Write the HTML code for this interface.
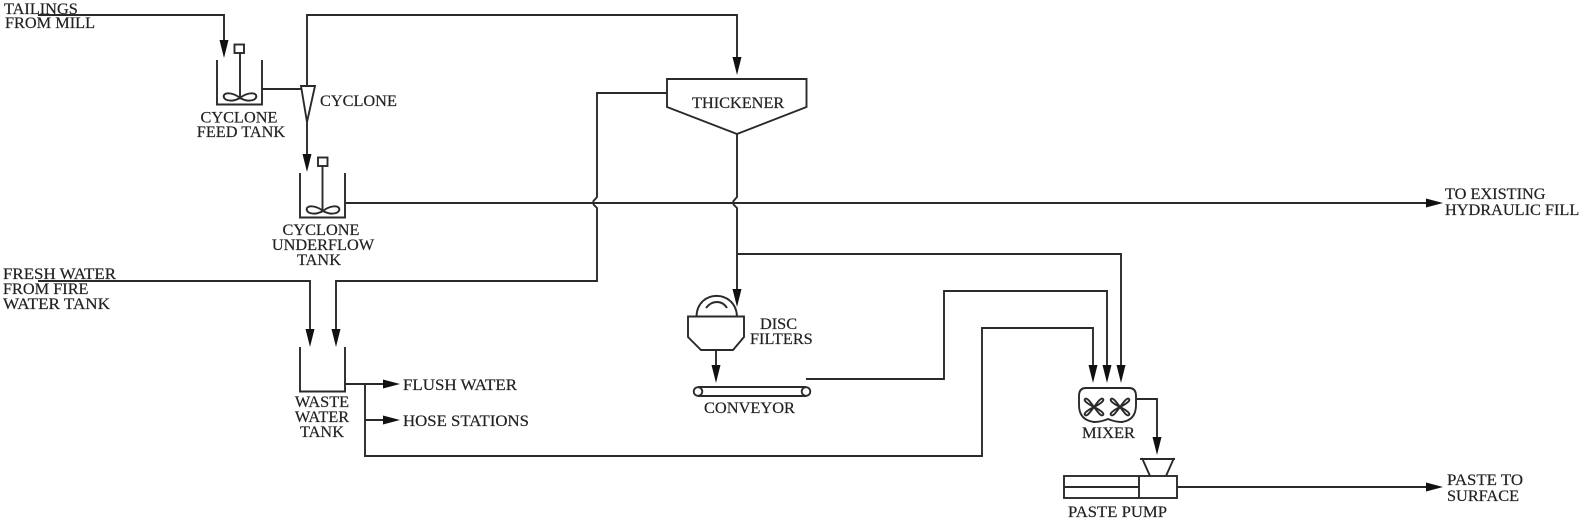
<!DOCTYPE html>
<html><head><meta charset="utf-8"><style>
html,body{margin:0;padding:0;background:#fff;width:1583px;height:520px;overflow:hidden}
svg{display:block}
text{font-family:"Liberation Serif",serif;font-size:16.3px;fill:#222;stroke:#222;stroke-width:.2}
.l{fill:none;stroke:#2a2a2a;stroke-width:1.9}
.a{fill:#111;stroke:none}
.art{filter:blur(.3px)}
</style></head><body>
<svg width="1583" height="520" viewBox="0 0 1583 520" xmlns="http://www.w3.org/2000/svg">
<defs>
<g id="ad"><path class="a" d="M-4.500,-18 L4.500,-18 L0,0 Z"/></g>
<g id="ar"><path class="a" d="M-17,-4.500 L0,0 L-17,4.500 Z"/></g>
<g id="imp"><path class="l" d="M0,0 C-6,-5 -14,-6 -16,-3 C-18,2 -9,5 0,0 C6,-5 14,-6 16,-3 C18,2 9,5 0,0 Z"/></g>
<g id="fan"><path class="l" d="M0,0 C-3,-4 -7,-10 -9,-8 C-11,-6 -4,-2 0,0 C4,-2 11,-6 9,-8 C7,-10 3,-4 0,0 C-3,4 -7,10 -9,8 C-11,6 -4,2 0,0 C4,2 11,6 9,8 C7,10 3,4 0,0 Z"/></g>
</defs>
<g class="art">
<!-- tailings -->
<path class="l" d="M38,15 H224 V45"/><use href="#ad" x="224" y="58"/>
<!-- feed tank -->
<path class="l" d="M217,60 V104.500 H262 V60"/>
<rect class="l" x="234.500" y="44.500" width="9.500" height="8.500"/>
<path class="l" d="M240,53 V98"/><use href="#imp" x="240" y="98"/>
<path class="l" d="M262,89 H301"/>
<!-- cyclone -->
<path class="l" d="M301,86 H315 L307,122 Z"/>
<path class="l" d="M307,86 V15 H737 V62"/><use href="#ad" x="737" y="75"/>
<path class="l" d="M307,122 V160"/><use href="#ad" x="307" y="172"/>
<!-- underflow tank -->
<path class="l" d="M300,173 V217.500 H345 V173"/>
<rect class="l" x="318" y="157.500" width="9.500" height="8.500"/>
<path class="l" d="M322.500,166 V211"/><use href="#imp" x="323" y="211"/>
<path class="l" d="M345,203 H1430"/>
<use href="#ar" x="1443" y="203"/>
<!-- thickener -->
<path class="l" d="M667,79 H806.500 V107 L737,134 L667,107 Z"/>
<path class="l" d="M667,93 H597 V197 L593.500,201 Q592.500,203 594,205 L597,208 V281 H336 V335"/><use href="#ad" x="336" y="347"/>
<path class="l" d="M38,281 H310 V335"/><use href="#ad" x="310" y="347"/>
<path class="l" d="M737,134 V197 L733.500,201 Q732.500,203 734,205 L737,208 V295"/><use href="#ad" x="737" y="307"/>
<path class="l" d="M737,254 H1121 V370"/><use href="#ad" x="1121" y="383"/>
<!-- waste tank -->
<path class="l" d="M300,347 V391.500 H345 V347"/>
<path class="l" d="M345,384 H385"/><use href="#ar" x="400" y="384"/>
<path class="l" d="M365,384 V456 H982 V328 H1093 V370"/><use href="#ad" x="1093" y="383"/>
<path class="l" d="M365,420 H385"/><use href="#ar" x="400" y="420"/>
<!-- disc filters -->
<path class="l" d="M696.500,316.500 C697,289 736,289 737,316.500"/>
<path class="l" d="M706,308 C712,300 722,300 727,308"/>
<path class="l" d="M688,316.500 H744 V337 L733,350 H701 L688,337 Z"/>
<path class="l" d="M716,350 V372"/><use href="#ad" x="716" y="383"/>
<!-- conveyor -->
<path class="l" d="M698,387 H806 M698,396 H806"/>
<circle class="l" cx="698" cy="391.500" r="4.300" fill="#fff"/>
<circle class="l" cx="806" cy="391.500" r="4.300" fill="#fff"/>
<path class="l" d="M806,379 H944 V291 H1107 V370"/><use href="#ad" x="1107" y="383"/>
<!-- mixer -->
<path class="l" d="M1086,388 H1129 Q1136,388 1136,396 V405 Q1136,420 1122,422 Q1115,422 1108,419 Q1101,422 1094,422 Q1079,420 1079,405 V396 Q1079,388 1086,388 Z"/>
<use href="#fan" x="1094" y="407"/><use href="#fan" x="1120" y="407"/>
<path class="l" d="M1136,399 H1157 V442"/><use href="#ad" x="1157" y="455"/>
<!-- pump -->
<path class="l" d="M1140,459 H1175 M1142,458 L1150,476 M1174,458 L1166,476"/>
<rect class="l" x="1064" y="476" width="113" height="22"/>
<path class="l" d="M1139,476 V498 M1064,487 H1139 M1177,487 H1430"/>
<use href="#ar" x="1443" y="487"/>

<!-- labels -->
<text x="4" y="14">TAILINGS</text>
<text x="5" y="28">FROM MILL</text>
<text x="320" y="106">CYCLONE</text>
<text x="239" y="122.500" text-anchor="middle">CYCLONE</text>
<text x="241" y="137" text-anchor="middle">FEED TANK</text>
<text x="321" y="235" text-anchor="middle">CYCLONE</text>
<text x="323" y="250" text-anchor="middle">UNDERFLOW</text>
<text x="319" y="265" text-anchor="middle">TANK</text>
<text x="3" y="279" textLength="113" lengthAdjust="spacingAndGlyphs">FRESH WATER</text>
<text x="3" y="294">FROM FIRE</text>
<text x="3" y="309" textLength="107" lengthAdjust="spacingAndGlyphs">WATER TANK</text>
<text x="322" y="407" text-anchor="middle">WASTE</text>
<text x="322" y="422" text-anchor="middle">WATER</text>
<text x="322" y="437" text-anchor="middle">TANK</text>
<text x="403" y="390" textLength="114" lengthAdjust="spacingAndGlyphs">FLUSH WATER</text>
<text x="403" y="426" textLength="126" lengthAdjust="spacingAndGlyphs">HOSE STATIONS</text>
<text x="692" y="108">THICKENER</text>
<text x="760" y="329">DISC</text>
<text x="750" y="344">FILTERS</text>
<text x="704" y="413" textLength="91" lengthAdjust="spacingAndGlyphs">CONVEYOR</text>
<text x="1082" y="438" textLength="53" lengthAdjust="spacingAndGlyphs">MIXER</text>
<text x="1068" y="517" textLength="99" lengthAdjust="spacingAndGlyphs">PASTE PUMP</text>
<text x="1445" y="199">TO EXISTING</text>
<text x="1445" y="215">HYDRAULIC FILL</text>
<text x="1447" y="485" textLength="76" lengthAdjust="spacingAndGlyphs">PASTE TO</text>
<text x="1447" y="501">SURFACE</text>
</g>
</svg>
</body></html>
